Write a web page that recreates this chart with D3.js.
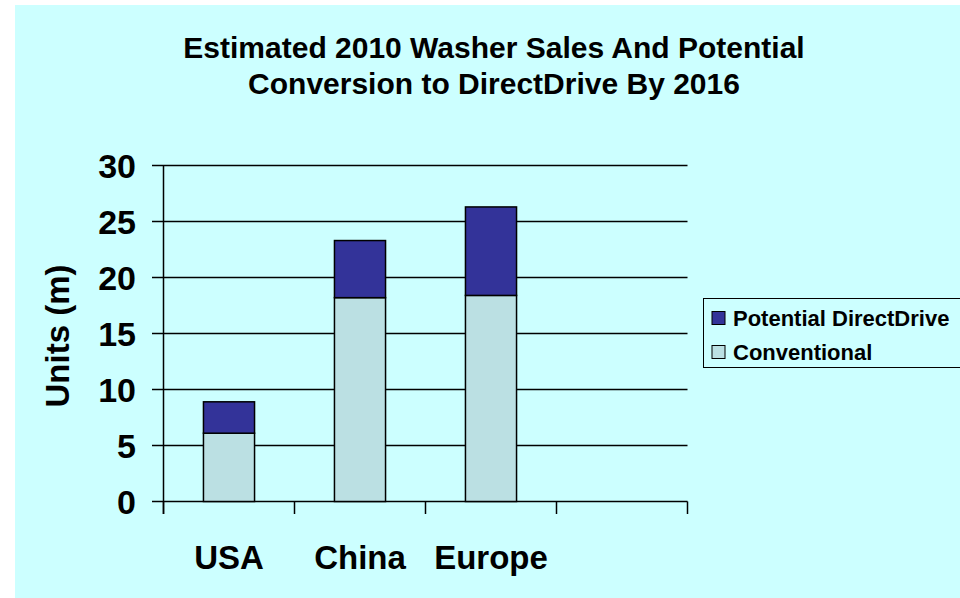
<!DOCTYPE html>
<html>
<head>
<meta charset="utf-8">
<script src="https://cdn.jsdelivr.net/npm/d3@7"></script>
<style>
  html, body { margin: 0; padding: 0; background: #fff; }
  svg text { font-family: Arial, "Liberation Sans", sans-serif; font-weight: bold; fill: #000; }
</style>
</head>
<body>
<svg id="chart" width="960" height="598"></svg>
<script>
const categories = ['USA', 'China', 'Europe', ''];
const conventional = [6.1, 18.2, 18.4, null];
const potential = [2.8, 5.1, 7.9, null];
const yTicks = [0, 5, 10, 15, 20, 25, 30];
const seriesNames = ['Potential DirectDrive', 'Conventional'];
const seriesColors = ['#333399', '#bbe0e3'];

const svg = d3.select('#chart');

// background panel
svg.append('rect')
    .attr('x', 15).attr('y', 5)
    .attr('width', 945).attr('height', 593)
    .attr('fill', '#ccffff');

// title
const title = svg.append('text')
    .attr('text-anchor', 'middle')
    .style('font-size', '30px');
title.append('tspan').attr('x', 494).attr('y', 58).text('Estimated 2010 Washer Sales And Potential');
title.append('tspan').attr('x', 494).attr('y', 94).text('Conversion to DirectDrive By 2016');

const x = d3.scaleBand()
    .domain(categories)
    .range([163.5, 687.5]);

const y = d3.scaleLinear()
    .domain([0, 30])
    .range([501.5, 165.5]);

const barW = x.bandwidth() * 0.39;

// gridlines + y ticks
svg.append('g')
    .selectAll('line')
    .data(yTicks)
    .join('line')
    .attr('x1', 152).attr('x2', 687.5)
    .attr('y1', d => y(d)).attr('y2', d => y(d))
    .attr('stroke', '#000').attr('stroke-width', 1.5);

svg.append('g')
    .selectAll('text')
    .data(yTicks)
    .join('text')
    .attr('x', 136)
    .attr('y', d => y(d))
    .attr('dy', '0.36em')
    .attr('text-anchor', 'end')
    .style('font-size', '34px')
    .text(d => d);

// y axis line
svg.append('line')
    .attr('x1', 163.5).attr('x2', 163.5)
    .attr('y1', y(30)).attr('y2', 514)
    .attr('stroke', '#000').attr('stroke-width', 1.5);

// x ticks at band boundaries
const boundaries = categories.map(c => x(c)).concat([x.range()[1]]);
svg.append('g')
    .selectAll('line')
    .data(boundaries)
    .join('line')
    .attr('x1', d => d).attr('x2', d => d)
    .attr('y1', y(0)).attr('y2', 514)
    .attr('stroke', '#000').attr('stroke-width', 1.5);

// bars
const rows = categories.map((c, i) => ({ cat: c, conv: conventional[i], pot: potential[i] }))
    .filter(d => d.conv != null);

const bars = svg.append('g');
bars.selectAll('rect.conv')
    .data(rows)
    .join('rect')
    .attr('class', 'conv')
    .attr('x', d => x(d.cat) + (x.bandwidth() - barW) / 2)
    .attr('width', barW)
    .attr('y', d => y(d.conv))
    .attr('height', d => y(0) - y(d.conv))
    .attr('fill', seriesColors[1])
    .attr('stroke', '#000').attr('stroke-width', 1.5);

bars.selectAll('rect.pot')
    .data(rows)
    .join('rect')
    .attr('class', 'pot')
    .attr('x', d => x(d.cat) + (x.bandwidth() - barW) / 2)
    .attr('width', barW)
    .attr('y', d => y(d.conv + d.pot))
    .attr('height', d => y(d.conv) - y(d.conv + d.pot))
    .attr('fill', seriesColors[0])
    .attr('stroke', '#000').attr('stroke-width', 1.5);

// category labels
svg.append('g')
    .selectAll('text')
    .data(categories)
    .join('text')
    .attr('x', d => x(d) + x.bandwidth() / 2)
    .attr('y', 569)
    .attr('text-anchor', 'middle')
    .style('font-size', '33px')
    .text(d => d);

// y axis title
svg.append('text')
    .attr('transform', 'translate(69,336) rotate(-90)')
    .attr('text-anchor', 'middle')
    .style('font-size', '33px')
    .text('Units (m)');

// legend
const legend = svg.append('g');
legend.append('rect')
    .attr('x', 703.5).attr('y', 298.5)
    .attr('width', 270).attr('height', 69)
    .attr('fill', 'none')
    .attr('stroke', '#000').attr('stroke-width', 1);

const items = legend.selectAll('g.item')
    .data(seriesNames)
    .join('g')
    .attr('class', 'item')
    .attr('transform', (d, i) => `translate(712,${318 + i * 34})`);

items.append('rect')
    .attr('x', 0).attr('y', -6.5)
    .attr('width', 13).attr('height', 13)
    .attr('fill', (d, i) => seriesColors[i])
    .attr('stroke', '#000').attr('stroke-width', 1);

items.append('text')
    .attr('x', 21)
    .attr('dy', '0.36em')
    .style('font-size', '22px')
    .text(d => d);
</script>
</body>
</html>
